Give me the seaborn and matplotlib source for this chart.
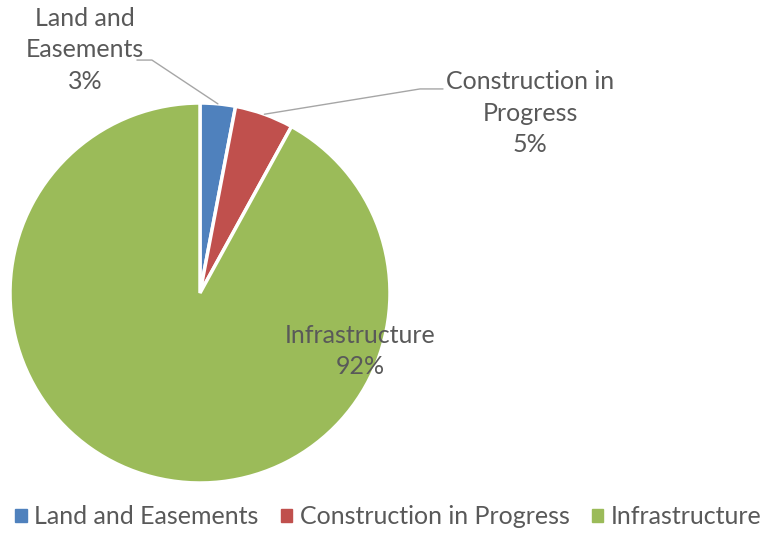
import numpy as np
import matplotlib
matplotlib.use("Agg")
import matplotlib.pyplot as plt
import seaborn as sns

# data
categories = ["Land and Easements", "Construction in Progress", "Infrastructure"]
shares = [3, 5, 92]
label_text = ["Land and\nEasements\n3%", "Construction in\nProgress\n5%", "Infrastructure\n92%"]

sns.set_theme(style="white")
plt.rcParams['font.family'] = ['Lato', 'DejaVu Sans']

colors = ['#4F81BD', '#C0504D', '#9BBB59']
text_color = '#595959'

fig = plt.figure(figsize=(7.62, 5.33), dpi=100)
# pie area: center (200, 293) px, radius 190 px
ax = fig.add_axes([10 / 762, 50 / 533, 380 / 762, 380 / 533])
wedges, _ = ax.pie(shares, colors=colors, startangle=90, counterclock=False,
                   radius=1.0, wedgeprops=dict(edgecolor='white', linewidth=2.5))
ax.set_xlim(-1, 1)
ax.set_ylim(-1, 1)
ax.set_aspect('equal')
ax.axis('off')

# label positions (data coords, radius = 1)
label_pos = [(-0.605, 1.279), (1.737, 0.947), (0.842, -0.305)]
elbows = [[(-0.253, 1.226), (-0.332, 1.226)], [(1.158, 1.074), (1.279, 1.074)], None]

for w, txt, pos, elb in zip(wedges, label_text, label_pos, elbows):
    ax.text(pos[0], pos[1], txt, ha='center', va='center', fontsize=18,
            color=text_color, linespacing=1.45, clip_on=False)
    if elb is not None:
        ang = np.deg2rad((w.theta1 + w.theta2) / 2)
        xs = [np.cos(ang)] + [p[0] for p in elb]
        ys = [np.sin(ang)] + [p[1] for p in elb]
        ax.plot(xs, ys, color='#A6A6A6', lw=1, clip_on=False)

handles = [plt.Rectangle((0, 0), 1, 1, color=c) for c in colors]
fig.legend(handles, categories, loc='center', bbox_to_anchor=(0.51, 1 - 517 / 533),
           ncol=3, frameon=False, fontsize=18, handlelength=0.45, handleheight=0.45,
           handletextpad=0.3, columnspacing=0.9, labelcolor=text_color)

fig.savefig("out.png", dpi=100, facecolor='white')
